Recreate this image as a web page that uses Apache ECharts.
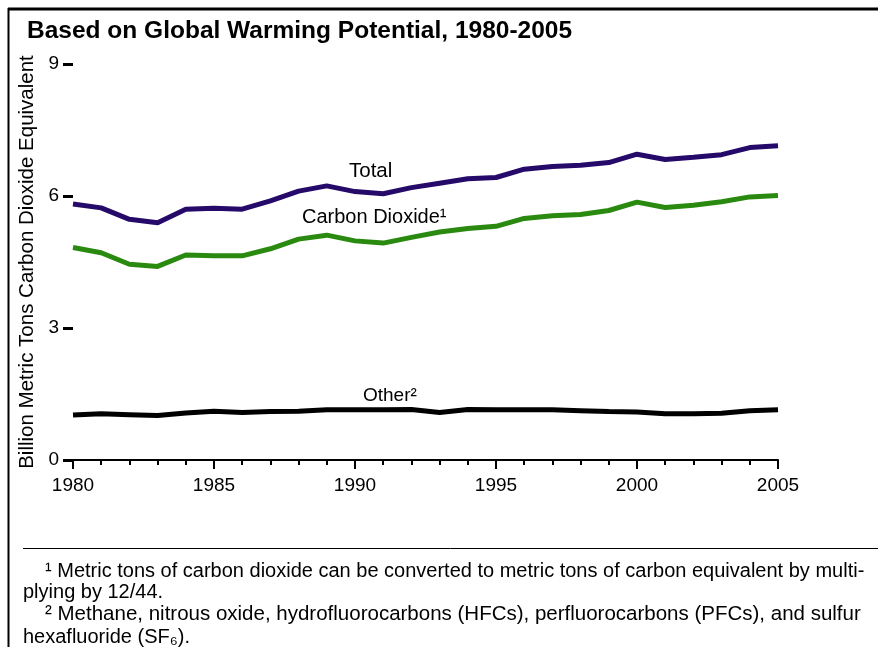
<!DOCTYPE html>
<html><head><meta charset="utf-8">
<script src="https://cdn.jsdelivr.net/npm/echarts@6/dist/echarts.min.js"></script>
<style>html,body{margin:0;padding:0;background:#fff;}#c{width:878px;height:647px;}</style>
</head><body><div id="c"></div>
<script>
const years = [1980,1981,1982,1983,1984,1985,1986,1987,1988,1989,1990,1991,1992,1993,1994,1995,1996,1997,1998,1999,2000,2001,2002,2003,2004,2005];
const total = [5.82,5.73,5.47,5.39,5.70,5.72,5.70,5.89,6.11,6.23,6.10,6.05,6.19,6.29,6.39,6.42,6.61,6.67,6.70,6.76,6.95,6.83,6.88,6.94,7.10,7.14];
const co2 = [4.83,4.71,4.45,4.40,4.66,4.64,4.64,4.80,5.02,5.11,4.98,4.93,5.06,5.18,5.26,5.31,5.49,5.55,5.58,5.67,5.86,5.74,5.79,5.87,5.98,6.01];
const other = [1.02,1.05,1.03,1.01,1.07,1.11,1.08,1.10,1.11,1.14,1.14,1.14,1.15,1.08,1.15,1.14,1.14,1.14,1.12,1.10,1.09,1.05,1.05,1.06,1.12,1.14];
const yTicks = [0,3,6,9];
const xLabels = [1980,1985,1990,1995,2000,2005];

const F = '"Liberation Sans", Arial, sans-serif';
const chart = echarts.init(document.getElementById('c'));
const pair = arr => years.map((y,i)=>[y,arr[i]]);
chart.setOption({
  animation:false,
  backgroundColor:'#fff',
  grid:{left:73,top:64,width:705,height:396},
  title:{text:'Based on Global Warming Potential, 1980-2005',left:22,top:14,
    textStyle:{fontFamily:F,fontSize:24.5,fontWeight:'bold',color:'#000'}},
  xAxis:{type:'value',min:1980,max:2005,interval:5,
    axisLine:{show:true,onZero:false,lineStyle:{color:'#000',width:2}},
    axisTick:{show:true,length:9,lineStyle:{color:'#000',width:2}},
    minorTick:{show:true,splitNumber:5,length:5,lineStyle:{color:'#000',width:2}},
    splitLine:{show:false},
    axisLabel:{fontFamily:F,fontSize:19,color:'#000',margin:16,
      formatter:v=>xLabels.includes(v)?String(v):''}},
  yAxis:{type:'value',min:0,max:9,interval:3,
    name:'Billion Metric Tons Carbon Dioxide Equivalent',nameLocation:'middle',nameGap:31,
    nameTextStyle:{fontFamily:F,fontSize:20.5,color:'#000'},
    axisLine:{show:false},
    axisTick:{show:true,length:10,lineStyle:{color:'#000',width:3}},
    splitLine:{show:false},
    axisLabel:{fontFamily:F,fontSize:19,color:'#000',margin:14,
      formatter:v=>yTicks.includes(v)?String(v):''}},
  series:[
    {type:'line',data:pair(total),symbol:'none',lineStyle:{color:'#250a6a',width:5},z:3},
    {type:'line',data:pair(co2),symbol:'none',lineStyle:{color:'#2a8a10',width:5},z:3},
    {type:'line',data:pair(other),symbol:'none',lineStyle:{color:'#000',width:5},z:3}
  ],
  graphic:[
    {type:'line',shape:{x1:8,y1:9,x2:878,y2:9},style:{stroke:'#000',lineWidth:3}},
    {type:'line',shape:{x1:8.5,y1:8,x2:8.5,y2:647},style:{stroke:'#000',lineWidth:2}},
    {type:'text',left:349,top:161,style:{text:'Total',font:'20.5px '+F,fill:'#000'}},
    {type:'text',left:302,top:207,style:{text:'Carbon Dioxide¹',font:'20px '+F,fill:'#000'}},
    {type:'text',left:363,top:386,style:{text:'Other²',font:'19px '+F,fill:'#000'}},
    {type:'line',shape:{x1:23,y1:548.5,x2:878,y2:548.5},style:{stroke:'#000',lineWidth:1}},
    {type:'text',left:45,top:561,style:{text:'¹ Metric tons of carbon dioxide can be converted to metric tons of carbon equivalent by multi-',font:'20px '+F,fill:'#000'}},
    {type:'text',left:23,top:582,style:{text:'plying by 12/44.',font:'20px '+F,fill:'#000'}},
    {type:'text',left:45,top:604,style:{text:'² Methane, nitrous oxide, hydrofluorocarbons (HFCs), perfluorocarbons (PFCs), and sulfur',font:'20.5px '+F,fill:'#000'}},
    {type:'text',left:23,top:627,style:{text:'hexafluoride (SF₆).',font:'20px '+F,fill:'#000'}}
  ]
});
</script></body></html>
